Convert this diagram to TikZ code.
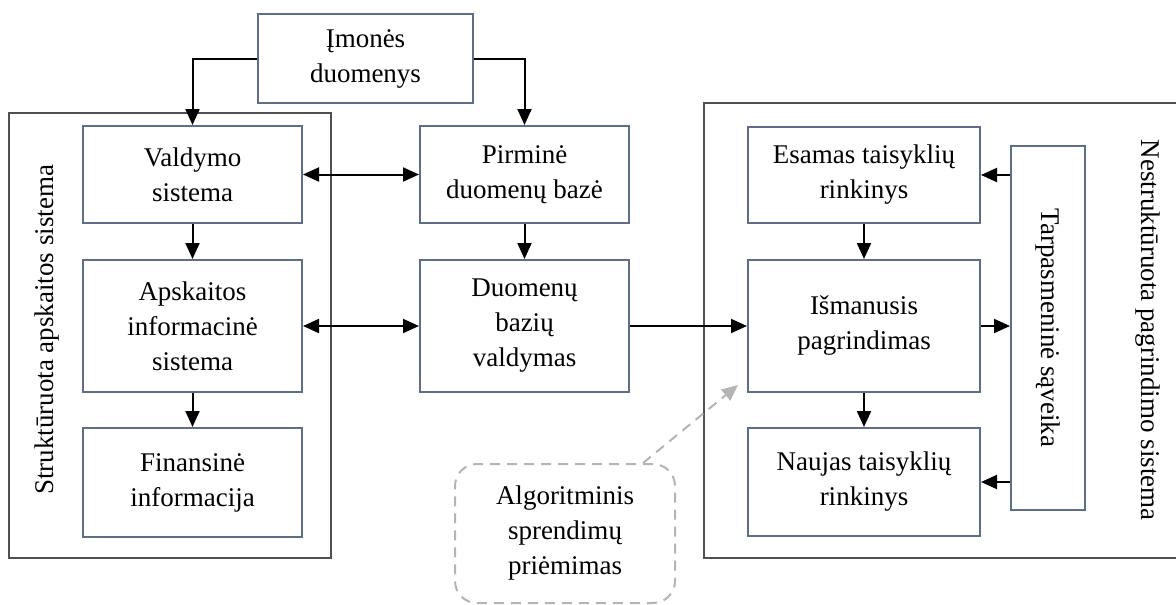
\documentclass[tikz,border=0pt]{standalone}
\usepackage{fontspec}
\setmainfont{Liberation Serif}
\usetikzlibrary{arrows.meta}
\definecolor{boxline}{HTML}{5F6E87}
\definecolor{frameline}{HTML}{505050}
\definecolor{noteline}{HTML}{B4B4B4}

\begin{document}
\begin{tikzpicture}[x=1pt,y=-1pt,
  every node/.style={font=\fontsize{27}{35}\selectfont, align=center, inner sep=0pt},
  box/.style={draw=boxline, line width=2pt, fill=white},
  sysframe/.style={draw=frameline, line width=1.5pt},
  link/.style={line width=2pt, -{Triangle[length=16pt,width=14pt]}},
  dlink/.style={line width=2pt, {Triangle[length=16pt,width=14pt]}-{Triangle[length=16pt,width=14pt]}},
  note/.style={draw=noteline, line width=2pt, dash pattern=on 10pt off 7pt, rounded corners=22pt},
  notelink/.style={draw=noteline, line width=2pt, dash pattern=on 10pt off 7pt,
                   -{Triangle[length=16pt,width=14pt,fill=noteline]}},
]
\useasboundingbox (0,0) rectangle (1176,605);

% system frames
\node[sysframe, minimum width=322pt, minimum height=445pt] (leftsys) at (170,335.5) {};
\node[sysframe, minimum width=474pt, minimum height=455pt] (rightsys) at (941,330.5) {};

% frame titles
\node[rotate=90] (lefttitle) at (47,330) {Struktūruota apskaitos sistema};
\node[rotate=-90] (righttitle) at (1148,330) {Nestruktūruota pagrindimo sistema};

% top source
\node[box, minimum width=215pt, minimum height=89pt] (imones) at (365.5,58.5) {Įmonės\\duomenys};

% left column
\node[box, minimum width=219pt, minimum height=97pt] (valdymo) at (192.5,174.5) {Valdymo\\sistema};
\node[box, minimum width=219pt, minimum height=132pt] (apsk) at (192.5,326) {Apskaitos\\informacinė\\sistema};
\node[box, minimum width=219pt, minimum height=109pt] (finans) at (192.5,482.5) {Finansinė\\informacija};

% middle column
\node[box, minimum width=209pt, minimum height=97pt] (pirmine) at (524.5,174.5) {Pirminė\\duomenų bazė};
\node[box, minimum width=209pt, minimum height=132pt] (duomenu) at (524.5,326) {Duomenų\\bazių\\valdymas};

% right column
\node[box, minimum width=232pt, minimum height=96pt] (esamas) at (864,175) {Esamas taisyklių\\rinkinys};
\node[box, minimum width=232pt, minimum height=132pt] (ismanusis) at (864,326) {Išmanusis\\pagrindimas};
\node[box, minimum width=232pt, minimum height=108pt] (naujas) at (864,482) {Naujas taisyklių\\rinkinys};
\node[box, minimum width=74pt, minimum height=364pt] (tarp) at (1048,328) {};
\node[rotate=-90] (tarptext) at (tarp) {Tarpasmeninė sąveika};

% dashed note
\node[note, minimum width=220pt, minimum height=139pt] (algo) at (565,533.5) {Algoritminis\\sprendimų\\priėmimas};

% connectors
\draw[link] (imones.west) -| (valdymo.north);
\draw[link] (imones.east) -| (pirmine.north);
\draw[dlink] (valdymo) -- (pirmine);
\draw[dlink] (apsk) -- (duomenu);
\draw[link] (valdymo) -- (apsk);
\draw[link] (apsk) -- (finans);
\draw[link] (pirmine) -- (duomenu);
\draw[link] (duomenu) -- (ismanusis);
\draw[link] (esamas) -- (ismanusis);
\draw[link] (ismanusis) -- (naujas);
\draw[link] (ismanusis.east) -- (ismanusis.east -| tarp.west);
\draw[link] (esamas.east -| tarp.west) -- (esamas.east);
\draw[link] (naujas.east -| tarp.west) -- (naujas.east);
\draw[notelink] ([xshift=-33pt]algo.north east) -- ([xshift=-9pt,yshift=8pt]ismanusis.south west);
\end{tikzpicture}
\end{document}
